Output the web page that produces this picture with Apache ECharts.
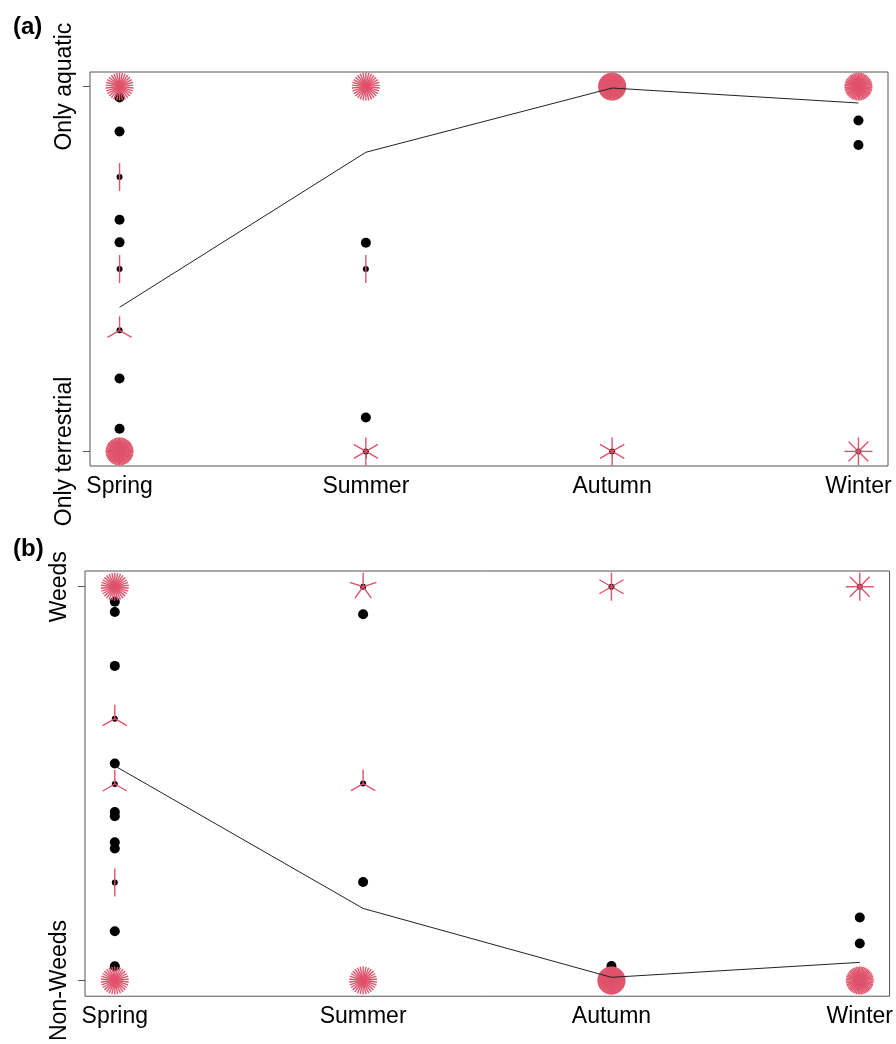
<!DOCTYPE html>
<html>
<head>
<meta charset="utf-8">
<script src="https://cdn.jsdelivr.net/npm/echarts@6/dist/echarts.min.js"></script>
<style>
  html, body { margin: 0; background: #fff; }
  #chart { width: 896px; height: 1044px; }
</style>
</head>
<body>
<div id="chart"></div>
<script>
// seasons on x (1..4)
const seasons = ['Spring', 'Summer', 'Autumn', 'Winter']

// (a) habitat: 0 = only terrestrial, 1 = only aquatic
const habitatLabels = ['Only terrestrial', 'Only aquatic']
// single observations [season, value]
const habitatSingles = [
    [1, 0.97], [1, 0.877], [1, 0.635], [1, 0.573], [1, 0.2], [1, 0.062],
    [2, 0.572], [2, 0.093],
    [4, 0.907], [4, 0.84]
]
// repeated observations [season, value, count]
const habitatRepeats = [
    [1, 1, 30], [1, 0.752, 2], [1, 0.5, 2], [1, 0.332, 3], [1, 0, 60],
    [2, 1, 30], [2, 0.5, 2], [2, 0, 6],
    [3, 1, 80], [3, 0, 6],
    [4, 1, 50], [4, 0, 8]
]
const habitatMeans = [0.395, 0.82, 0.996, 0.955]

// (b) weeds: 0 = non-weeds, 1 = weeds
const weedLabels = ['Non-Weeds', 'Weeds']
const weedSingles = [
    [1, 0.962], [1, 0.936], [1, 0.799], [1, 0.551], [1, 0.428], [1, 0.417],
    [1, 0.351], [1, 0.335], [1, 0.125], [1, 0.036],
    [2, 0.93], [2, 0.25],
    [3, 0.037],
    [4, 0.16], [4, 0.094]
]
const weedRepeats = [
    [1, 1, 30], [1, 0.665, 3], [1, 0.499, 3], [1, 0.249, 2], [1, 0, 30],
    [2, 1, 5], [2, 0.5, 3], [2, 0, 30],
    [3, 1, 6], [3, 0, 80],
    [4, 1, 8], [4, 0, 50]
]
const weedMeans = [0.545, 0.183, 0.008, 0.046]

const PETAL = 14
const PETAL_COLOR = '#DF536B'
const FONT = '"Liberation Sans", Arial, sans-serif'

// sunflower glyph: black centre plus one red petal per observation
function sunflower (params, api) {
    const c = api.coord([api.value(0), api.value(1)])
    const n = api.value(2)
    const children = [{
        type: 'circle',
        shape: { cx: c[0], cy: c[1], r: 3 },
        style: { fill: '#000' }
    }]
    for (let k = 1; k <= n; k++) {
        const a = 2 * Math.PI * k / n
        children.push({
            type: 'line',
            shape: { x1: c[0], y1: c[1], x2: c[0] + PETAL * Math.sin(a), y2: c[1] - PETAL * Math.cos(a) },
            style: { stroke: PETAL_COLOR, lineWidth: 1.4 }
        })
    }
    return { type: 'group', children }
}

function xAxis (gridIndex) {
    return {
        type: 'value', gridIndex, min: 0.88, max: 4.12,
        axisLine: { show: false },
        splitLine: { show: false },
        axisTick: { customValues: [1, 2, 3, 4], length: 7, lineStyle: { color: '#555' } },
        axisLabel: {
            customValues: [1, 2, 3, 4], margin: 9,
            formatter: v => seasons[Math.round(v) - 1],
            color: '#000', fontSize: 23, fontFamily: FONT
        }
    }
}

function yAxis (gridIndex, labels) {
    return {
        type: 'value', gridIndex, min: -0.04, max: 1.04,
        axisLine: { show: false },
        splitLine: { show: false },
        axisTick: { customValues: [0, 1], length: 7, lineStyle: { color: '#555' } },
        axisLabel: {
            customValues: [0, 1], rotate: 90, margin: 14,
            formatter: v => labels[Math.round(v)],
            color: '#000', fontSize: 23, fontFamily: FONT
        }
    }
}

function panelSeries (i, singles, repeats, means) {
    return [
        {
            type: 'scatter', xAxisIndex: i, yAxisIndex: i, z: 2,
            symbolSize: 10, itemStyle: { color: '#000', opacity: 1 },
            data: singles, silent: true
        },
        {
            type: 'custom', xAxisIndex: i, yAxisIndex: i, z: 3,
            renderItem: sunflower, data: repeats, silent: true
        },
        {
            type: 'line', xAxisIndex: i, yAxisIndex: i, z: 4,
            symbol: 'none', lineStyle: { color: '#222', width: 1 },
            data: means.map((m, k) => [k + 1, m]), silent: true
        }
    ]
}

const chart = echarts.init(document.getElementById('chart'))

chart.setOption({
    animation: false,
    backgroundColor: '#fff',
    title: [
        { text: '(a)', left: 8, top: 10, textStyle: { fontSize: 24, fontWeight: 'bold', fontFamily: FONT, color: '#000' } },
        { text: '(b)', left: 8, top: 532, textStyle: { fontSize: 24, fontWeight: 'bold', fontFamily: FONT, color: '#000' } }
    ],
    grid: [
        { left: 90, width: 798, top: 72, height: 394, show: true, borderColor: '#555', borderWidth: 1 },
        { left: 85, width: 807, top: 571, height: 426, show: true, borderColor: '#555', borderWidth: 1 }
    ],
    xAxis: [xAxis(0), xAxis(1)],
    yAxis: [yAxis(0, habitatLabels), yAxis(1, weedLabels)],
    series: [
        ...panelSeries(0, habitatSingles, habitatRepeats, habitatMeans),
        ...panelSeries(1, weedSingles, weedRepeats, weedMeans)
    ]
})
</script>
</body>
</html>
